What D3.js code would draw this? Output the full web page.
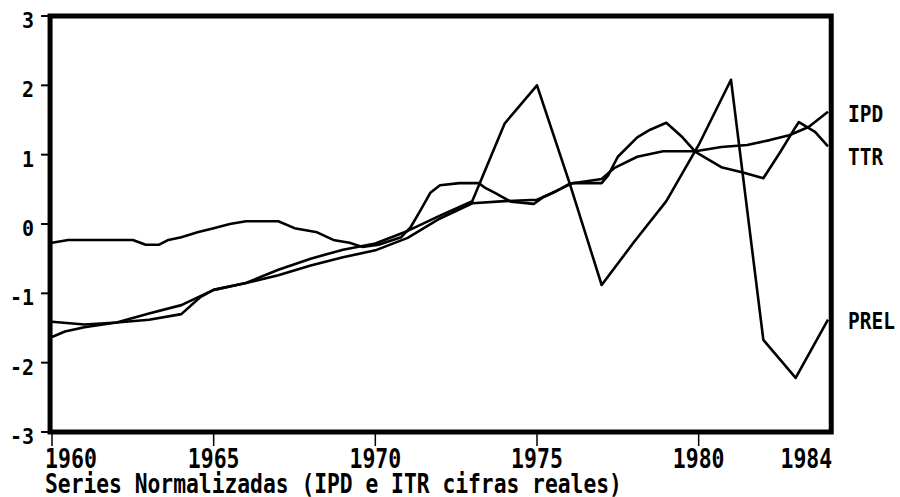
<!DOCTYPE html>
<html>
<head>
<meta charset="utf-8">
<script src="https://cdn.jsdelivr.net/npm/d3@7"></script>
<style>
  body { margin: 0; background: #fff; }
  text { font-family: "DejaVu Sans Mono", monospace; font-weight: bold; fill: #000; }
</style>
</head>
<body>
<div id="chart"></div>
<script>
// Data (years, normalized values)
var ttrYears = [1960, 1960.5, 1962.5, 1962.9, 1963.3, 1963.6, 1964, 1964.5, 1965, 1965.5, 1966, 1967, 1967.5,
  1968.2, 1968.7, 1969.2, 1969.6, 1970.1, 1970.8, 1971.1, 1971.4, 1971.7, 1972, 1972.6, 1973.2, 1973.4, 1973.7,
  1974.2, 1974.9, 1975.2, 1975.7, 1976.1, 1977, 1977.2, 1977.5, 1978.1, 1978.5, 1979, 1979.5, 1979.9, 1980.7,
  1981.4, 1982, 1982.5, 1983, 1983.1, 1983.6, 1984];
var ttrValues = [-0.27, -0.23, -0.23, -0.3, -0.3, -0.23, -0.19, -0.12, -0.06, 0.0, 0.04, 0.04, -0.06,
  -0.12, -0.23, -0.27, -0.33, -0.3, -0.19, -0.04, 0.2, 0.45, 0.56, 0.59, 0.59, 0.52, 0.45,
  0.32, 0.29, 0.39, 0.5, 0.59, 0.59, 0.7, 0.97, 1.25, 1.36, 1.46, 1.25, 1.04, 0.82,
  0.74, 0.66, 1.02, 1.4, 1.47, 1.33, 1.12];

var ipdYears = [1960, 1960.4, 1961, 1962, 1963, 1964, 1964.6, 1965, 1966, 1967, 1968, 1969, 1970, 1971, 1972,
  1973, 1974, 1975, 1975.5, 1976, 1977, 1977.4, 1978.1, 1978.9, 1979.9, 1980.7, 1981.5, 1982.2, 1982.8,
  1983.4, 1984];
var ipdValues = [-1.63, -1.55, -1.49, -1.42, -1.38, -1.3, -1.05, -0.95, -0.85, -0.74, -0.6, -0.48, -0.38, -0.2, 0.08,
  0.3, 0.33, 0.35, 0.45, 0.58, 0.65, 0.81, 0.97, 1.05, 1.05, 1.11, 1.14, 1.21, 1.28,
  1.4, 1.62];

var prelYears = d3.range(1960, 1985);
var prelValues = [-1.41, -1.45, -1.42, -1.29, -1.17, -0.95, -0.85, -0.66, -0.5, -0.37, -0.28, -0.1, 0.12,
  0.33, 1.45, 2.0, 0.6, -0.88, -0.26, 0.33, 1.14, 2.08, -1.67, -2.22, -1.38];

var seriesNames = ["IPD", "TTR", "PREL"];
var labelLevels = [1.58, 0.97, -1.4];

var yTicks = [3, 2, 1, 0, -1, -2, -3];
var xTicks = [1960, 1965, 1970, 1975, 1980];
var xTickLabels = ["1960", "1965", "1970", "1975", "1980", "1984"];
var xLabelYears = [1960, 1965, 1970, 1975, 1980, 1984];
var title = "Series Normalizadas (IPD e ITR cifras reales)";

var width = 900, height = 497;

var svg = d3.select("#chart")
  .append("svg")
    .attr("width", width)
    .attr("height", height);

var x = d3.scaleLinear().domain([1960, 1984]).range([52, 828]);
var y = d3.scaleLinear().domain([-3, 3]).range([432, 16]);

function toPoints(xs, vs) {
  return xs.map(function(d, i) { return [d, vs[i]]; });
}
var series = [
  toPoints(ipdYears, ipdValues),
  toPoints(ttrYears, ttrValues),
  toPoints(prelYears, prelValues)
];

var line = d3.line()
  .x(function(d) { return x(d[0]); })
  .y(function(d) { return y(d[1]); });

// data lines
svg.append("g")
  .selectAll("path")
  .data(series)
  .enter()
  .append("path")
    .attr("d", line)
    .attr("fill", "none")
    .attr("stroke", "#000")
    .attr("stroke-width", 2.6)
    .attr("stroke-linejoin", "round");

// frame
var x0 = x(1959.94), x1 = x(1984.1);
svg.append("rect")
  .attr("x", x0)
  .attr("y", y(3))
  .attr("width", x1 - x0)
  .attr("height", y(-3) - y(3))
  .attr("fill", "none")
  .attr("stroke", "#000")
  .attr("stroke-width", 5);

// y ticks + labels
svg.selectAll(".ytick")
  .data(yTicks)
  .enter()
  .append("line")
    .attr("x1", x0 - 9)
    .attr("x2", x0)
    .attr("y1", function(d) { return y(d); })
    .attr("y2", function(d) { return y(d); })
    .attr("stroke", "#000")
    .attr("stroke-width", 2);

svg.selectAll(".ylab")
  .data(yTicks)
  .enter()
  .append("text")
    .attr("transform", function(d) { return "translate(34," + (y(d) + 12) + ") scale(1,1.1)"; })
    .attr("text-anchor", "end")
    .style("font-size", "20px")
    .text(function(d) { return d; });

// x ticks + labels
svg.selectAll(".xtick")
  .data(xTicks)
  .enter()
  .append("line")
    .attr("x1", function(d) { return x(d); })
    .attr("x2", function(d) { return x(d); })
    .attr("y1", y(-3))
    .attr("y2", y(-3) + 14)
    .attr("stroke", "#000")
    .attr("stroke-width", 1.5);

svg.selectAll(".xlab")
  .data(xTickLabels)
  .enter()
  .append("text")
    .attr("transform", function(d, i) {
      var px = x(xLabelYears[i]);
      if (i == 0) px = x0 - 5;
      if (i == xTickLabels.length - 1) px = x1 + 1;
      return "translate(" + px + ",468) scale(1,1.25)";
    })
    .attr("text-anchor", function(d, i) {
      return i == 0 ? "start" : (i == xTickLabels.length - 1 ? "end" : "middle");
    })
    .style("font-size", "21.5px")
    .text(function(d) { return d; });

// axis title
svg.append("text")
  .attr("transform", "translate(45,493) scale(1,1.22)")
  .style("font-size", "21.3px")
  .text(title);

// series labels on the right
svg.selectAll(".slab")
  .data(seriesNames)
  .enter()
  .append("text")
    .attr("transform", function(d, i) { return "translate(848," + (y(labelLevels[i]) + 8) + ") scale(1,1.2)"; })
    .style("font-size", "19.5px")
    .text(function(d) { return d; });
</script>
</body>
</html>
